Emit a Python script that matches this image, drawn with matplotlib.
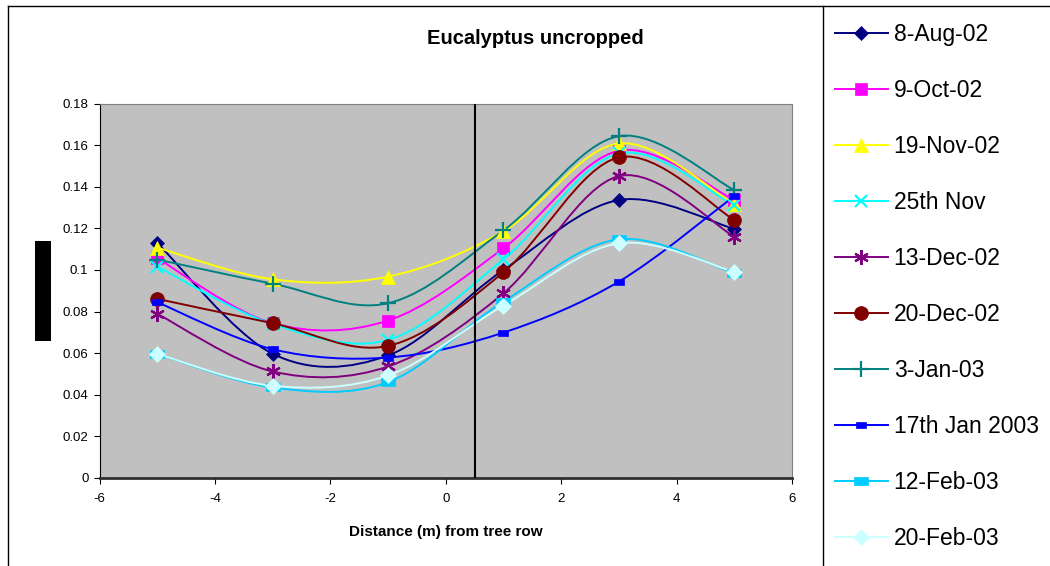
import matplotlib
matplotlib.use("Agg")
import matplotlib.pyplot as plt
from matplotlib.path import Path
from matplotlib.patches import PathPatch, Rectangle
from matplotlib.lines import Line2D
import numpy as np

plt.rcParams["font.family"] = ["Liberation Sans", "DejaVu Sans"]
plt.rcParams["axes.unicode_minus"] = False

distance = [-5, -3, -1, 1, 3, 5]

aug_8_02 = [0.113, 0.0597, 0.0589, 0.100, 0.1336, 0.1197]
oct_9_02 = [0.1056, 0.0744, 0.0757, 0.1104, 0.1573, 0.1336]
nov_19_02 = [0.1107, 0.0955, 0.0968, 0.1186, 0.1608, 0.1315]
nov_25 = [0.1016, 0.0740, 0.0664, 0.1051, 0.1560, 0.1310]
dec_13_02 = [0.0789, 0.0512, 0.0536, 0.0888, 0.1451, 0.1160]
dec_20_02 = [0.0861, 0.0744, 0.0635, 0.0989, 0.1541, 0.1240]
jan_3_03 = [0.1050, 0.0934, 0.0840, 0.1190, 0.1643, 0.1384]
jan_17_2003 = [0.0845, 0.0619, 0.0579, 0.0699, 0.0944, 0.1355]
feb_12_03 = [0.0597, 0.0435, 0.0461, 0.0848, 0.1147, 0.0984]
feb_20_03 = [0.0597, 0.0443, 0.0493, 0.0829, 0.1128, 0.0990]

labels = ["8-Aug-02", "9-Oct-02", "19-Nov-02", "25th Nov", "13-Dec-02",
          "20-Dec-02", "3-Jan-03", "17th Jan 2003", "12-Feb-03", "20-Feb-03"]
series = [aug_8_02, oct_9_02, nov_19_02, nov_25, dec_13_02,
          dec_20_02, jan_3_03, jan_17_2003, feb_12_03, feb_20_03]

colors = ["#000080", "#FF00FF", "#FFFF00", "#00FFFF", "#800080",
          "#800000", "#008080", "#0000FF", "#00CCFF", "#CCFFFF"]

wide_rect = [(-1.0, -0.55), (1.0, -0.55), (1.0, 0.55), (-1.0, 0.55), (-1.0, -0.55)]
markers = ["D", "s", "^", "x", (6, 2, 0), "o", "+", wide_rect, wide_rect, "D"]
msizes = [7.5, 9, 9.5, 8.5, 10.5, 10, 11.5, 7, 10, 8.5]


def smooth_path(xs, ys):
    # Excel style smoothed line: cubic Bezier through the points
    pts = np.column_stack([xs, ys]).astype(float)
    ext = np.vstack([pts[0], pts, pts[-1]])
    verts = [tuple(pts[0])]
    codes = [Path.MOVETO]
    for i in range(len(pts) - 1):
        p0, p1, p2, p3 = ext[i], ext[i + 1], ext[i + 2], ext[i + 3]
        c1 = p1 + (p2 - p0) / 6.0
        c2 = p2 - (p3 - p1) / 6.0
        verts += [tuple(c1), tuple(c2), tuple(p2)]
        codes += [Path.CURVE4] * 3
    return Path(verts, codes)


W, H = 1050, 566
fig = plt.figure(figsize=(W / 100, H / 100), dpi=100)
ax = fig.add_axes([99.5 / W, 1 - 478 / H, (792 - 99.5) / W, (478 - 103.5) / H])
ax.set_facecolor("#C0C0C0")

handles = []
for ys, lab, c, m, ms in zip(series, labels, colors, markers, msizes):
    ax.add_patch(PathPatch(smooth_path(distance, ys), fill=False,
                           edgecolor=c, lw=1.4, zorder=2))
    mew = 1.6 if m in ("x", "+", (6, 2, 0)) else 0.5
    ax.plot(distance, ys, linestyle="none", marker=m, markersize=ms,
            color=c, markeredgecolor=c, markeredgewidth=mew, zorder=3)
    handles.append(Line2D([], [], color=c, lw=1.4, marker=m,
                          markersize=ms, markeredgecolor=c,
                          markeredgewidth=mew, label=lab))

ax.axvline(0.5, color="black", lw=1.5, zorder=4)

ax.set_xlim(-6, 6)
ax.set_ylim(0, 0.18)
ax.set_xticks(np.arange(-6, 7, 2))
ax.set_yticks(np.arange(0, 0.181, 0.02))
ax.set_yticklabels(["0", "0.02", "0.04", "0.06", "0.08", "0.1",
                    "0.12", "0.14", "0.16", "0.18"])
ax.tick_params(direction="out", length=4, width=0.8, labelsize=9.5)
ax.tick_params(axis="x", pad=7)
ax.tick_params(axis="y", pad=4)
ax.spines["left"].set_color("black")
ax.spines["bottom"].set_color("#303030")
ax.spines["bottom"].set_linewidth(2)
ax.spines["top"].set_color("#808080")
ax.spines["right"].set_color("#808080")

ax.set_xlabel("Distance (m) from tree row", fontsize=11, fontweight="bold",
              labelpad=14)
fig.text(535 / W, 1 - 38 / H, "Eucalyptus uncropped", fontsize=14.5,
         fontweight="bold", ha="center", va="center")

# blacked-out y axis title
fig.add_artist(Rectangle((35 / W, 1 - 341 / H), 16 / W, 100 / H,
                         transform=fig.transFigure, facecolor="black",
                         edgecolor="none"))

# chart frame and legend frame
frame = dict(color="black", lw=1.0, transform=fig.transFigure)
fig.add_artist(Line2D([8 / W, 1], [1 - 5.5 / H, 1 - 5.5 / H], **frame))
fig.add_artist(Line2D([8 / W, 8 / W], [0, 1 - 5.5 / H], **frame))
fig.add_artist(Line2D([822.5 / W, 822.5 / W], [0, 1 - 5.5 / H], **frame))

fig.legend(handles=handles, loc="upper left",
           bbox_to_anchor=(835 / W, 1 - 23 / H), frameon=False,
           fontsize=16.5, handlelength=2.3, handletextpad=0.26,
           labelspacing=1.44, borderaxespad=0, borderpad=0)

fig.savefig("out.png", dpi=100)
